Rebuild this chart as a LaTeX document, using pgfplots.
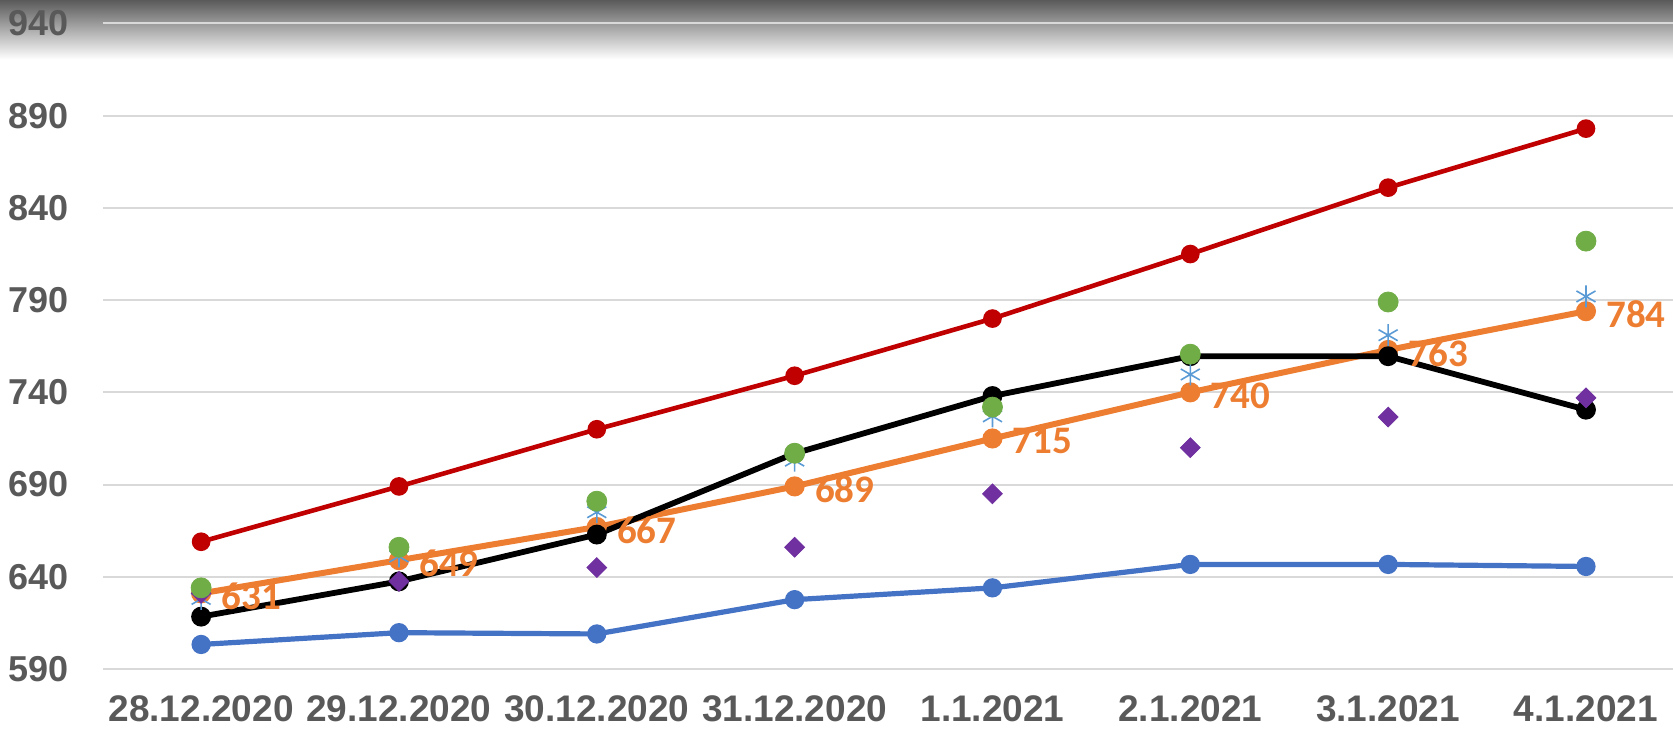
\documentclass[border=0pt]{standalone}
\usepackage{fontspec}
\setmainfont{Liberation Sans}
\newfontfamily\carlito{Carlito}
\usepackage{pgfplots}
\usepackage{pgfplotstable}
\pgfplotsset{compat=1.18}
\usetikzlibrary{plotmarks}

\definecolor{rojo}{HTML}{C00000}
\definecolor{azul}{HTML}{4472C4}
\definecolor{naranja}{HTML}{ED7D31}
\definecolor{verde}{HTML}{70AD47}
\definecolor{celeste}{HTML}{5B9BD5}
\definecolor{morado}{HTML}{7030A0}
\definecolor{grilla}{HTML}{D9D9D9}
\definecolor{texto}{HTML}{595959}
\definecolor{sombra}{HTML}{5A5A5A}

% x = day index (0 = 28.12.2020 ... 7 = 4.1.2021)
\pgfplotstableread{
x  red  blue   black  orange green  star  diam
0  659  603.3  618.4  631    634    628   631
1  689  609.7  637.5  649    656    651   637.5
2  720  609.0  662.9  667    681    675   645
3  749  627.6  706.9  689    707    703   656
4  780  634.0  738.0  715    732    727   685
5  815  646.7  759.6  740    760.7  749.7 710
6  851  646.7  759.6  763    789    771   726.6
7  883  645.6  730.6  784    822    792   737
}\datos

\begin{document}
\begin{tikzpicture}
\useasboundingbox (-51.5pt,11.75pt) rectangle (785pt,-354.25pt);
\shade[top color=sombra, bottom color=white] (-51.5pt,11.75pt) rectangle (785pt,-18pt);
\begin{axis}[
  at={(0,0)}, anchor=north west,
  scale only axis, width=785pt, height=322.75pt,
  xmin=-0.496, xmax=7.44, ymin=590, ymax=940,
  ytick={590,640,...,940},
  xtick={0,...,7},
  xticklabels={28.12.2020,29.12.2020,30.12.2020,31.12.2020,1.1.2021,2.1.2021,3.1.2021,4.1.2021},
  axis line style={draw=none},
  major tick style={draw=none},
  ymajorgrids, grid style={grilla, line width=1pt},
  /pgf/number format/assume math mode=true,
  yticklabel style={font=\bfseries\fontsize{18}{18}\selectfont, text=texto, anchor=east, inner sep=0pt, xshift=-17pt},
  xticklabel style={font=\bfseries\fontsize{18.5}{18.5}\selectfont, text=texto, anchor=center, inner sep=0pt, yshift=-20pt},
  clip=false,
]
\addplot[azul, line width=2.6pt, mark=*, mark size=3.5pt] table[x=x, y=blue] {\datos};
\addplot[rojo, line width=2.3pt, mark=*, mark size=3.5pt] table[x=x, y=red] {\datos};
\addplot[naranja, line width=3pt, mark=*, mark size=3.5pt] table[x=x, y=orange] {\datos};
\addplot[black, line width=2.9pt, mark=*, mark size=3.5pt] table[x=x, y=black] {\datos};
\addplot[only marks, celeste, mark=asterisk, mark size=5.5pt, mark options={line width=0.8pt}] table[x=x, y=star] {\datos};
\addplot[only marks, morado, mark=square*, mark size=3.5pt, mark options={rotate=45}] table[x=x, y=diam] {\datos};
\addplot[only marks, verde, mark=*, mark size=5pt] table[x=x, y=green] {\datos};
\addplot[draw=none, mark=none, nodes near coords,
  nodes near coords style={anchor=west, inner sep=0pt, xshift=10pt, yshift=-1.5pt,
    font=\carlito\bfseries\fontsize{19.5}{19.5}\selectfont, text=naranja}]
  table[x=x, y=orange] {\datos};
\end{axis}
\end{tikzpicture}
\end{document}
